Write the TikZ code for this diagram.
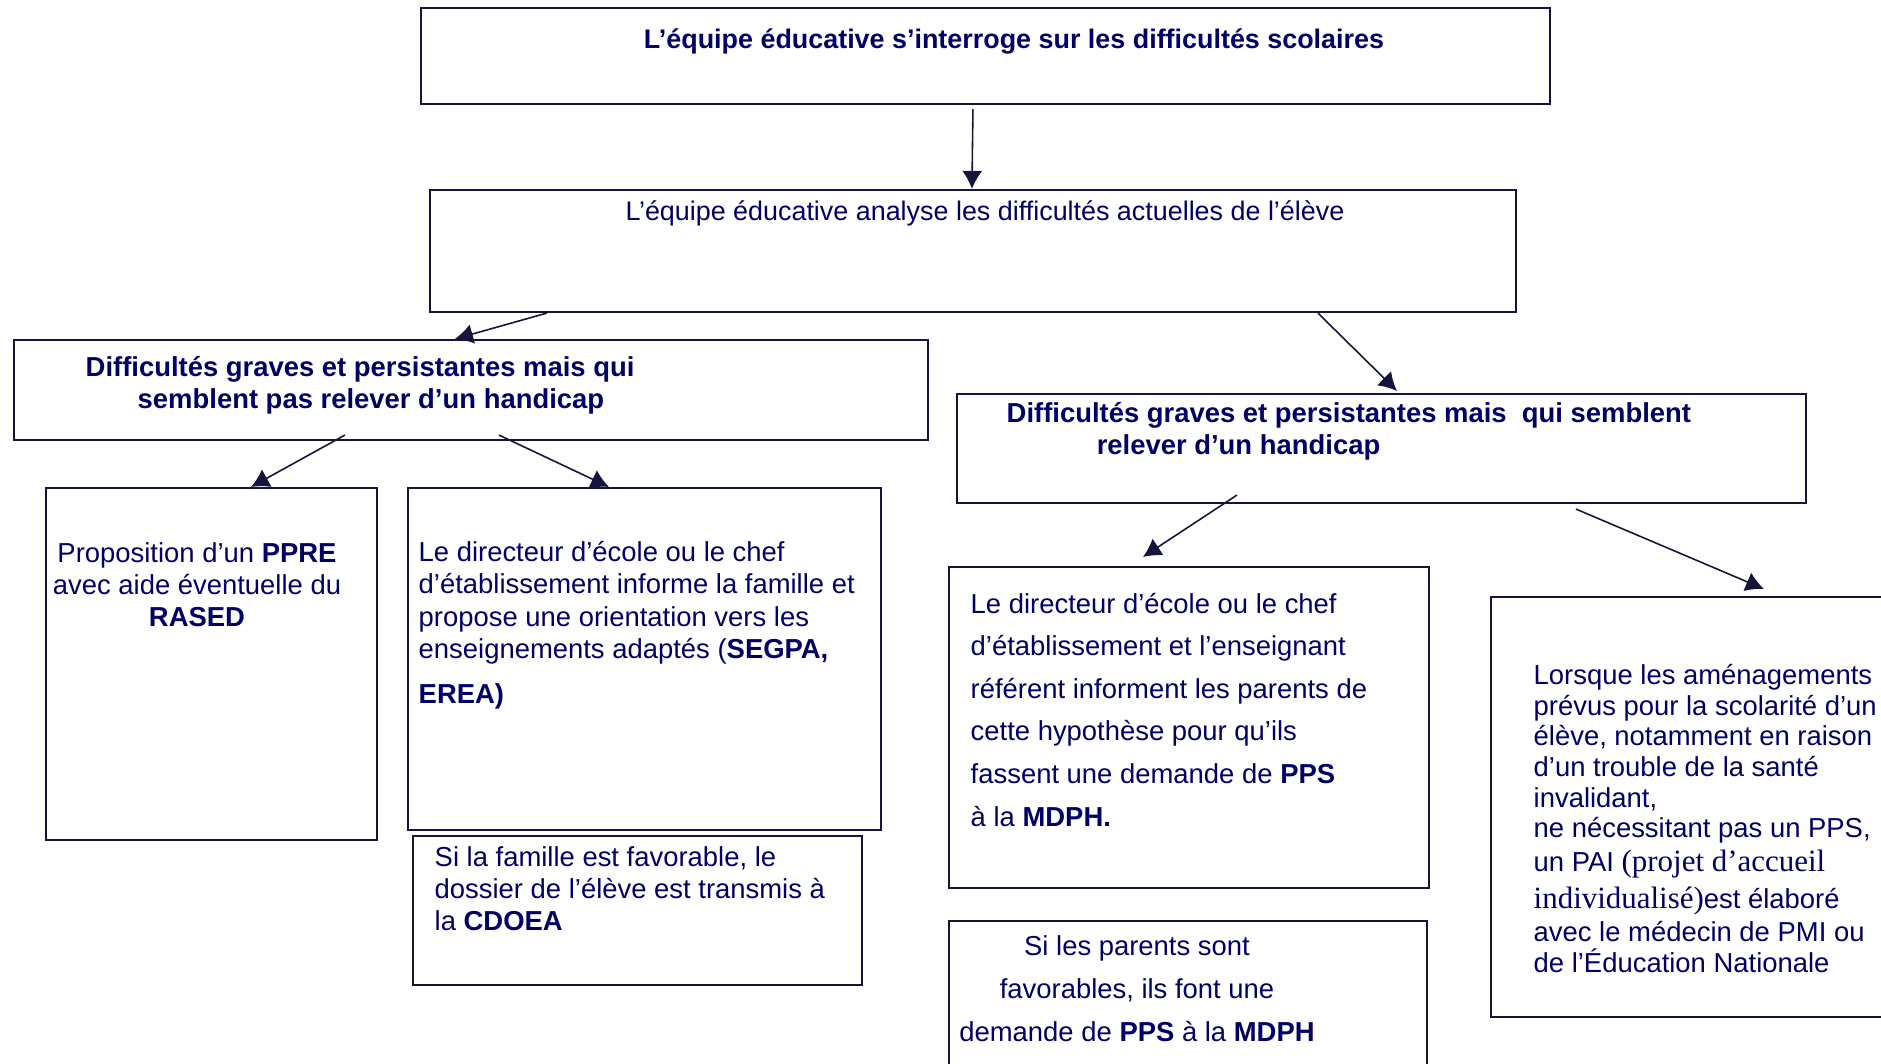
\documentclass[tikz,border=0pt]{standalone}
\usepackage{fontspec}
\setmainfont{Liberation Sans}
\newfontfamily\timesfont{Liberation Serif}
\usetikzlibrary{arrows.meta,calc,fit}
\definecolor{navytext}{RGB}{0,0,102}
\definecolor{navyline}{RGB}{20,20,60}
\tikzset{
  box/.style={draw=navyline, line width=0.6pt, inner sep=0pt},
  txt/.style={text=navytext, inner sep=0pt, font=\fontsize{7.8}{9.1}\selectfont},
  arr/.style={draw=navyline, line width=0.45pt, -{Latex[length=1.8mm,width=2mm]}}
}
\begin{document}
\begin{tikzpicture}[x=0.01cm,y=-0.01cm]
\useasboundingbox (0,0) rectangle (1881,1063);
\clip (0,0) rectangle (1881,1063);
% boxes
\foreach \name/\xa/\ya/\xb/\yb in {
  top/421/8/1550/104,
  analyse/430/190/1516/312,
  pashand/14/340/928/440,
  hand/957/394/1806/503,
  ppre/46/488/377/840,
  orient/408/488/881/830,
  cdoea/413/836/862/985,
  pps/949/567/1429/888,
  parents/949/921/1427/1080,
  pai/1491/597/1900/1017
}{
  \node[box, fit={(\xa,\ya) (\xb,\yb)}] (\name) {};
}
% texts (base = last line)
\node[txt, anchor=base, font=\fontsize{7.65}{9}\selectfont] (ttop) at (1014,48)
  {\textbf{L’équipe éducative s’interroge sur les difficultés scolaires}};
\node[txt, anchor=base, font=\fontsize{7.65}{9}\selectfont] (tanalyse) at (985,220)
  {L’équipe éducative analyse les difficultés actuelles de l’élève};
\node[txt, anchor=base west, align=left] (tpashand) at (85,408)
  {\textbf{Difficultés graves et persistantes mais qui}\\
   \hspace*{0.52cm}\textbf{semblent pas relever d’un handicap}};
\node[txt, anchor=base west, align=left] (thand) at (1006,454)
  {\textbf{Difficultés graves et persistantes mais\ \ qui semblent}\\
   \hspace*{0.9cm}\textbf{relever d’un handicap}};
\node[txt, anchor=base, align=center] (tppre) at (197,626)
  {Proposition d’un \textbf{PPRE}\\avec aide éventuelle du\\\textbf{RASED}};
\node[txt, anchor=base west, align=left] (torient) at (418,703)
  {Le directeur d’école ou le chef\\d’établissement informe la famille et\\
   propose une orientation vers les\\enseignements adaptés (\textbf{SEGPA,}\\[3.7pt]
   \textbf{EREA)}};
\node[txt, anchor=base west, align=left] (tcdoea) at (434,930)
  {Si la famille est favorable, le\\dossier de l’élève est transmis à\\la \textbf{CDOEA}};
\node[txt, anchor=base west, align=left, font=\fontsize{7.8}{12.1}\selectfont] (tpps) at (970,826)
  {Le directeur d’école ou le chef\\d’établissement et l’enseignant\\
   référent informent les parents de\\cette hypothèse pour qu’ils\\
   fassent une demande de \textbf{PPS}\\à la \textbf{MDPH.}};
\node[txt, anchor=base, align=center, font=\fontsize{7.8}{12.1}\selectfont] (tparents) at (1137,1041)
  {Si les parents sont\\favorables, ils font une\\demande de \textbf{PPS} à la \textbf{MDPH}};
\node[txt, anchor=base west, align=left, font=\fontsize{7.8}{8.73}\selectfont] (tpai) at (1533,972)
  {Lorsque les aménagements\\prévus pour la scolarité d’un\\élève, notamment en raison\\
   d’un trouble de la santé\\invalidant,\\ne nécessitant pas un PPS,\\[0.8pt]
   un PAI {\timesfont\fontsize{8.8}{10}\selectfont (projet d’accueil}\\[1.9pt]
   {\timesfont\fontsize{8.8}{10}\selectfont individualisé)}est élaboré\\[0.5pt]
   avec le médecin de PMI ou\\de l’Éducation Nationale};
% arrows
\draw[arr] ($(top.south west)+(553,4)$) -- ($(analyse.north west)+(543,0)$);
\draw[arr] ($(analyse.south west)+(118,0)$) -- ($(pashand.north west)+(442,0)$);
\draw[arr] ($(analyse.south west)+(889,0)$) -- ($(hand.north west)+(441,-2)$);
\draw[arr] ($(pashand.south west)+(332,-6)$) -- ($(ppre.north west)+(206,0)$);
\draw[arr] ($(pashand.south west)+(486,-6)$) -- ($(orient.north west)+(202,0)$);
\draw[arr] ($(hand.south west)+(281,-9)$) -- ($(pps.north west)+(195,-9)$);
\draw[arr] ($(hand.south west)+(620,5)$) -- ($(pai.north west)+(274,-7)$);
\end{tikzpicture}
\end{document}
